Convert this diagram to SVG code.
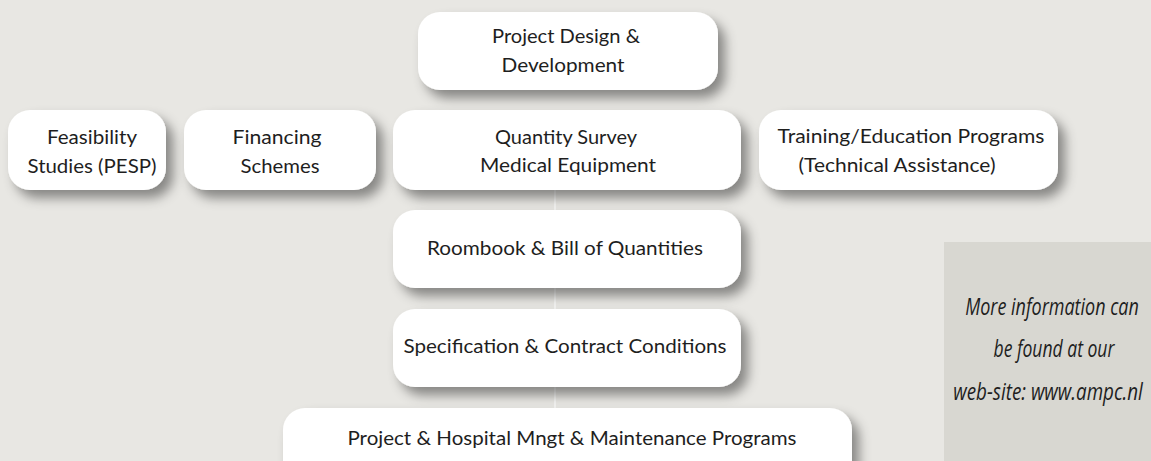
<svg xmlns="http://www.w3.org/2000/svg" width="1151" height="461" viewBox="0 0 1151 461">
<defs>
<filter id="sh" x="-20%" y="-30%" width="150%" height="180%">
<feDropShadow dx="7" dy="8" stdDeviation="6" flood-color="#000" flood-opacity="0.42"/>
</filter>
<style>
.box{fill:#fff;filter:url(#sh)}
.t{font-family:Lato,"Liberation Sans",sans-serif;font-size:19.5px;fill:#1e1e1e;text-anchor:middle}
.i{font-family:"Open Sans","Liberation Sans",sans-serif;font-style:italic;font-size:23px;fill:#1e1e1e;text-anchor:middle}
.c{stroke:#f4f4f2;stroke-width:2;fill:none}
</style>
</defs>
<rect width="1151" height="461" fill="#e8e7e3"/>
<g id="info">
<rect x="944" y="242" width="207" height="219" fill="#d8d7d1"/>
<g transform="translate(1050,0) scale(0.8,1)">
<text class="i" x="2.5" y="315" textLength="217" lengthAdjust="spacingAndGlyphs">More information can</text>
<text class="i" x="5" y="357" textLength="151" lengthAdjust="spacingAndGlyphs">be found at our</text>
<text class="i" x="-2.5" y="400" textLength="237" lengthAdjust="spacingAndGlyphs">web-site: www.ampc.nl</text>
</g>
</g>
<g id="connectors">
<line class="c" x1="555" y1="150" x2="555" y2="420"/>
</g>
<g id="n-design">
<rect class="box" x="418" y="12" width="300" height="78" rx="22"/>
<text class="t" x="566" y="43" textLength="148" lengthAdjust="spacingAndGlyphs">Project Design &amp;</text>
<text class="t" x="563" y="72" textLength="123" lengthAdjust="spacingAndGlyphs">Development</text>
</g>
<g id="n-feasibility">
<rect class="box" x="8" y="110" width="158" height="80" rx="22"/>
<text class="t" x="92" y="144" textLength="90" lengthAdjust="spacingAndGlyphs">Feasibility</text>
<text class="t" x="92" y="173" textLength="129" lengthAdjust="spacingAndGlyphs">Studies (PESP)</text>
</g>
<g id="n-financing">
<rect class="box" x="184" y="110" width="192" height="80" rx="22"/>
<text class="t" x="277" y="144" textLength="89" lengthAdjust="spacingAndGlyphs">Financing</text>
<text class="t" x="280" y="173" textLength="79" lengthAdjust="spacingAndGlyphs">Schemes</text>
</g>
<g id="n-quantity">
<rect class="box" x="393" y="110" width="348" height="80" rx="22"/>
<text class="t" x="566" y="144" textLength="142" lengthAdjust="spacingAndGlyphs">Quantity Survey</text>
<text class="t" x="568" y="172" textLength="176" lengthAdjust="spacingAndGlyphs">Medical Equipment</text>
</g>
<g id="n-training">
<rect class="box" x="759" y="110" width="299" height="80" rx="22"/>
<text class="t" x="911" y="143" textLength="267" lengthAdjust="spacingAndGlyphs">Training/Education Programs</text>
<text class="t" x="897" y="172" textLength="197" lengthAdjust="spacingAndGlyphs">(Technical Assistance)</text>
</g>
<g id="n-roombook">
<rect class="box" x="393" y="210" width="348" height="78" rx="22"/>
<text class="t" x="565" y="255" textLength="276" lengthAdjust="spacingAndGlyphs">Roombook &amp; Bill of Quantities</text>
</g>
<g id="n-spec">
<rect class="box" x="393" y="309" width="348" height="78" rx="22"/>
<text class="t" x="565" y="353" textLength="323" lengthAdjust="spacingAndGlyphs">Specification &amp; Contract Conditions</text>
</g>
<g id="n-mngt">
<rect class="box" x="283" y="408" width="569" height="78" rx="22"/>
<text class="t" x="572" y="445" textLength="449" lengthAdjust="spacingAndGlyphs">Project &amp; Hospital Mngt &amp; Maintenance Programs</text>
</g>
</svg>
